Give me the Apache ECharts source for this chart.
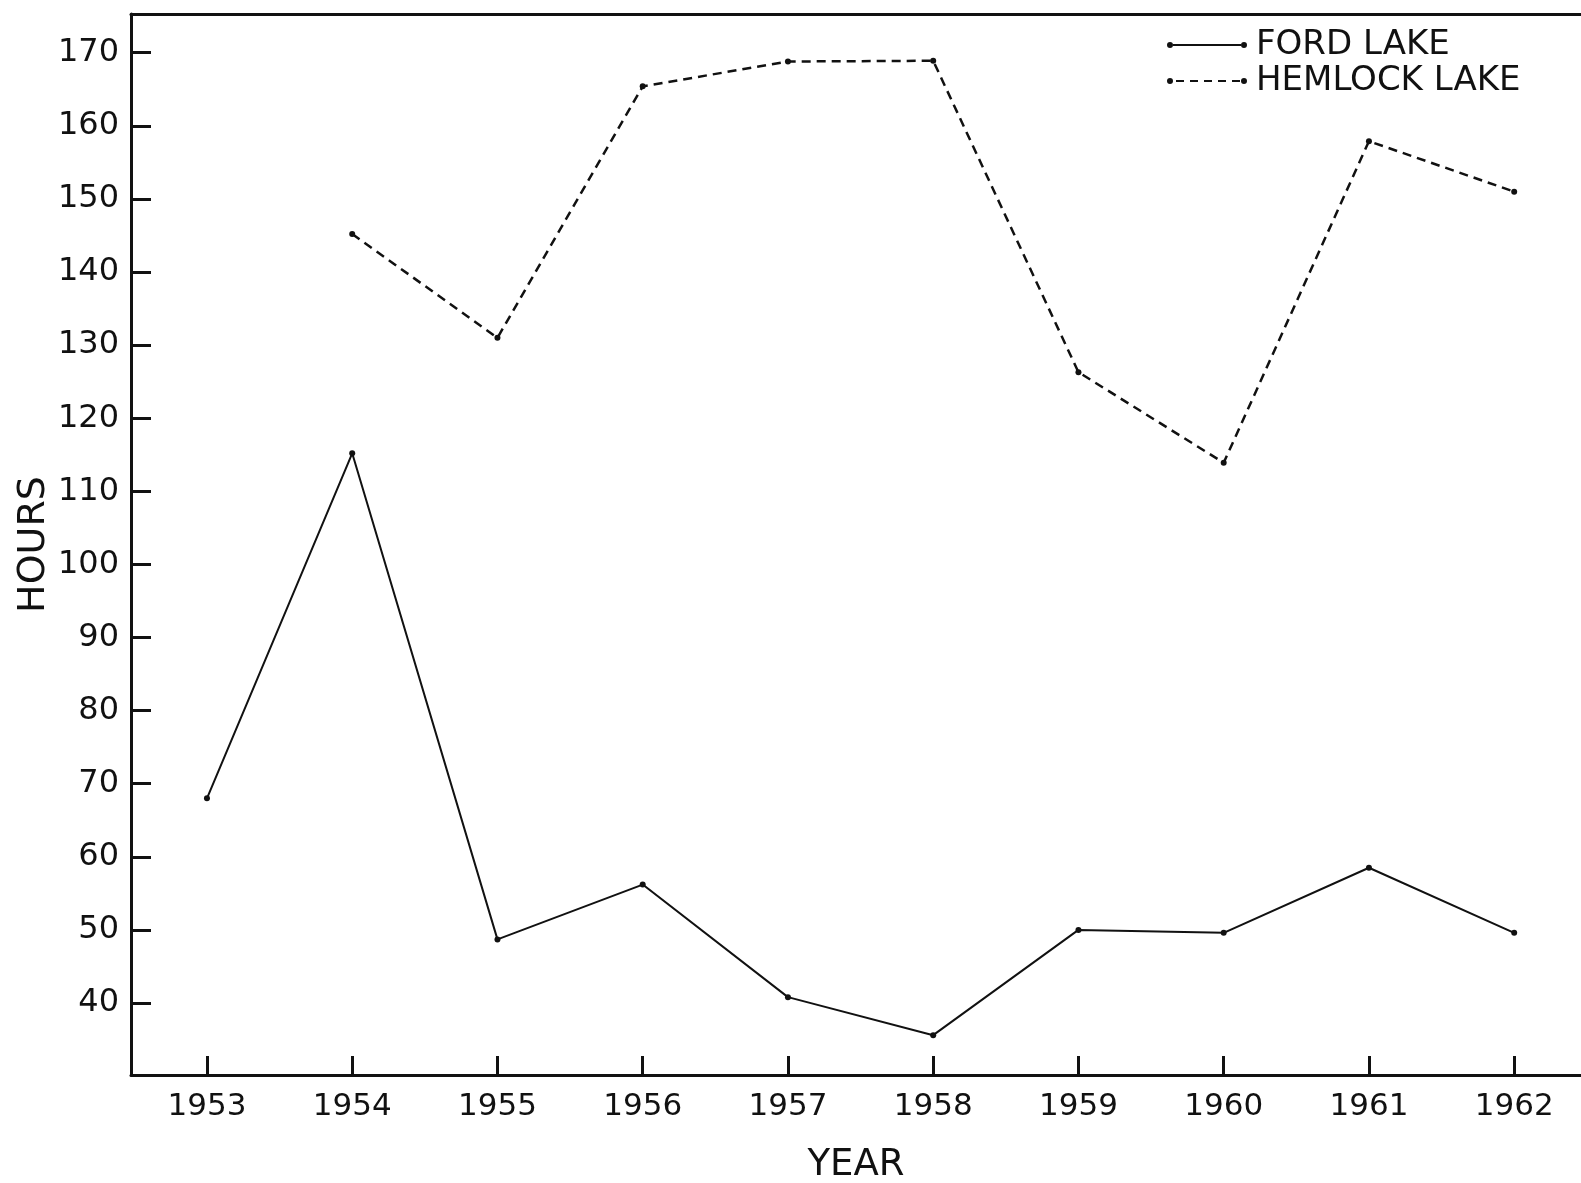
<!DOCTYPE html>
<html><head><meta charset="utf-8">
<script src="https://cdn.jsdelivr.net/npm/echarts@6/dist/echarts.min.js"></script>
<style>html,body{margin:0;padding:0;background:#fff}#c{width:1581px;height:1183px}</style>
</head><body><div id="c"></div>
<script>
const years = [1953,1954,1955,1956,1957,1958,1959,1960,1961,1962];
const fordLake = [68.0,115.2,48.7,56.2,40.8,35.6,50.0,49.6,58.5,49.6];
const hemlockLake = [null,145.2,131.0,165.4,168.8,168.9,126.3,113.9,157.9,151.0];
const yTicks = [40,50,60,70,80,90,100,110,120,130,140,150,160,170];
const seriesNames = ['FORD LAKE','HEMLOCK LAKE'];

const dot = x => `M${x},3 a3,3 0 1,1 6,0 a3,3 0 1,1 -6,0 Z `;
const solidIcon = 'path://' + dot(0) + 'M6,2 L74,2 L74,4 L6,4 Z ' + dot(74);
const dashIcon = 'path://' + dot(0) + [9,23,37,51,65].map(x=>`M${x},2 L${x+8},2 L${x+8},4 L${x},4 Z `).join('') + dot(74);

const font = 'DejaVu Sans';
const chart = echarts.init(document.getElementById('c'));
chart.setOption({
  backgroundColor:'#fff',
  animation:false,
  grid:{left:131,right:0,top:14,bottom:108,containLabel:false,outerBoundsMode:'none'},
  legend:{
    orient:'vertical', left:1162, top:22, itemWidth:80, itemHeight:6, itemGap:0,
    textStyle:{fontFamily:font,fontSize:34,color:'#111',lineHeight:36,padding:[0,0,0,4]},
    itemStyle:{borderWidth:0},
    data:[{name:seriesNames[0],icon:solidIcon},{name:seriesNames[1],icon:dashIcon}]
  },
  xAxis:[{
    type:'value', min:1952.477, max:1962.46,
    name:'YEAR', nameLocation:'middle', nameGap:72, nameMoveOverlap:false,
    nameTextStyle:{fontFamily:font,fontSize:37,color:'#111'},
    axisLine:{show:true,onZero:false,lineStyle:{color:'#111',width:3}},
    axisTick:{show:true,inside:true,length:19,customValues:years,lineStyle:{color:'#111',width:3}},
    axisLabel:{customValues:years,margin:16,fontFamily:font,fontSize:31,color:'#111',formatter:v=>String(v)},
    splitLine:{show:false}
  },{
    type:'value', position:'top', min:0, max:1,
    axisLine:{show:true,lineStyle:{color:'#111',width:3}},
    axisTick:{show:false}, axisLabel:{show:false}, splitLine:{show:false}
  }],
  yAxis:{
    type:'value', min:30.15, max:175.3,
    name:'HOURS', nameLocation:'middle', nameGap:78, nameRotate:90, nameMoveOverlap:false,
    nameTextStyle:{fontFamily:font,fontSize:38,color:'#111'},
    axisLine:{show:true,onZero:false,lineStyle:{color:'#111',width:3}},
    axisTick:{show:true,inside:true,length:20,customValues:yTicks,lineStyle:{color:'#111',width:3}},
    axisLabel:{customValues:yTicks,margin:12,fontFamily:font,fontSize:32,color:'#111'},
    splitLine:{show:false}
  },
  series:[{
    name:seriesNames[0], type:'line',
    data:years.map((y,i)=>[y,fordLake[i]]),
    symbol:'circle', symbolSize:6,
    itemStyle:{color:'#111'},
    lineStyle:{color:'#111',width:2}
  },{
    name:seriesNames[1], type:'line',
    data:years.map((y,i)=>[y,hemlockLake[i]]),
    symbol:'circle', symbolSize:6, connectNulls:false,
    itemStyle:{color:'#111'},
    lineStyle:{color:'#111',width:2.5,type:[9,6]}
  }]
});
</script></body></html>
